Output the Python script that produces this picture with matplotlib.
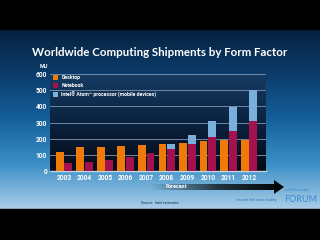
import numpy as np
import matplotlib
matplotlib.use("Agg")
import matplotlib.pyplot as plt
from matplotlib.colors import LinearSegmentedColormap
from matplotlib.patches import Polygon, Rectangle

# Shipments in million units
years = ["2003", "2004", "2005", "2006", "2007", "2008", "2009", "2010", "2011", "2012"]
desktop = [117, 146, 146, 152, 158, 165, 171, 184, 190, 194]
notebook = [52, 58, 71, 85, 112, 139, 165, 212, 249, 312]
atom = [0, 0, 0, 0, 0, 26, 59, 96, 145, 192]

font = "Lato"
small = "Roboto"

fig = plt.figure(figsize=(3.2, 2.4), dpi=100)
fig.patch.set_facecolor("black")

# background slide, pixel coordinates
bg = fig.add_axes([0, 0, 1, 1])
bg.set_xlim(0, 320)
bg.set_ylim(240, 0)
bg.axis("off")

slide_cmap = LinearSegmentedColormap.from_list(
    "slide", ["#06223f", "#0b3c6b", "#15609a", "#3b8fc6", "#a9cde8"])
grad = np.linspace(0, 1, 200).reshape(-1, 1)
bg.imshow(grad, cmap=slide_cmap, extent=[0, 320, 209, 29], aspect="auto", zorder=0)
bg.add_patch(Rectangle((0, 0), 320, 29, color="black", zorder=1))
bg.add_patch(Rectangle((0, 209), 320, 31, color="black", zorder=1))

bg.text(160, 52, "Worldwide Computing Shipments by Form Factor", color="white",
        fontsize=8.3, fontweight="bold", family=font, ha="center", va="center")
bg.text(44, 67, "MU", color="white", fontsize=4, fontweight="bold", family=small,
        ha="center", va="center")

# forecast arrow with fading gradient
arrow = Polygon([(150, 184), (274, 184), (274, 180), (284, 187), (274, 194),
                 (274, 190), (150, 190)], closed=True, facecolor="none",
                edgecolor="none", zorder=2)
bg.add_patch(arrow)
arrow_cmap = LinearSegmentedColormap.from_list(
    "arr", [(0, 0, 0, 0), (0, 0, 0, 0.7), (0, 0, 0, 1)])
im = bg.imshow(np.linspace(0, 1, 200).reshape(1, -1), cmap=arrow_cmap,
               extent=[150, 284, 194, 180], aspect="auto", zorder=2)
im.set_clip_path(arrow)
bg.text(176, 186.5, "Forecast", color="white", fontsize=4, fontweight="bold",
        family=small, ha="center", va="center", zorder=3)

bg.text(160, 203, "Source:  Intel estimates", color="#1a3050", fontsize=2.6,
        family=small, ha="center", va="center")
bg.text(237, 200, "Invent the new reality", color="#2a7ac0", fontsize=3.1,
        family=small, ha="left", va="center")
bg.text(285, 190, "Intel Developer", color="#3a8ad0", fontsize=2.6,
        family=small, ha="left", va="center")
bg.text(284, 199, "FORUM", color="#3a8ad0", fontsize=6.5, family=font,
        ha="left", va="center")

# chart
ax = fig.add_axes([50 / 320, 69 / 240, 216 / 320, 97 / 240])
ax.set_facecolor("none")
plot_cmap = LinearSegmentedColormap.from_list("plot", ["#050b16", "#0b2240", "#163c62"])
ax.imshow(np.linspace(0, 1, 100).reshape(-1, 1), cmap=plot_cmap, origin="lower",
          extent=[-0.68, 9.83, 0, 600], aspect="auto", zorder=0)

x = np.arange(len(years))
w = 0.38
ax.bar(x - 0.21, desktop, w, color="#f07a08", label="Desktop", zorder=3)
ax.bar(x + 0.21, notebook, w, color="#a3124f", label="Notebook", zorder=3)
ax.bar(x + 0.21, atom, w, bottom=notebook, color="#7ab0dc",
       label="Intel\u00ae Atom\u2122 processor (mobile devices)", zorder=3)

ax.set_xlim(-0.68, 9.83)
ax.set_ylim(0, 600)
ax.set_yticks(range(0, 601, 100))
ax.set_xticks(x)
ax.set_xticklabels(years)
ax.yaxis.grid(True, color="#7f98b4", linewidth=0.6, zorder=1)
ax.set_axisbelow(True)
ax.tick_params(colors="white", labelsize=4.8, length=0, pad=2)
for lab in ax.get_xticklabels() + ax.get_yticklabels():
    lab.set_fontweight("bold")
    lab.set_family(small)
for s in ["top", "right", "left"]:
    ax.spines[s].set_visible(False)
ax.spines["bottom"].set_color("#c8d4e0")
ax.spines["bottom"].set_linewidth(1)

leg = ax.legend(loc="upper left", bbox_to_anchor=(0.0, 1.02), frameon=False,
                prop={"family": small, "size": 3.7, "weight": "bold"},
                handlelength=1.0, handleheight=1.0, labelspacing=0.6,
                handletextpad=0.6, borderaxespad=0.2)
for t in leg.get_texts():
    t.set_color("white")

fig.savefig("out.png", dpi=100, facecolor=fig.get_facecolor())
